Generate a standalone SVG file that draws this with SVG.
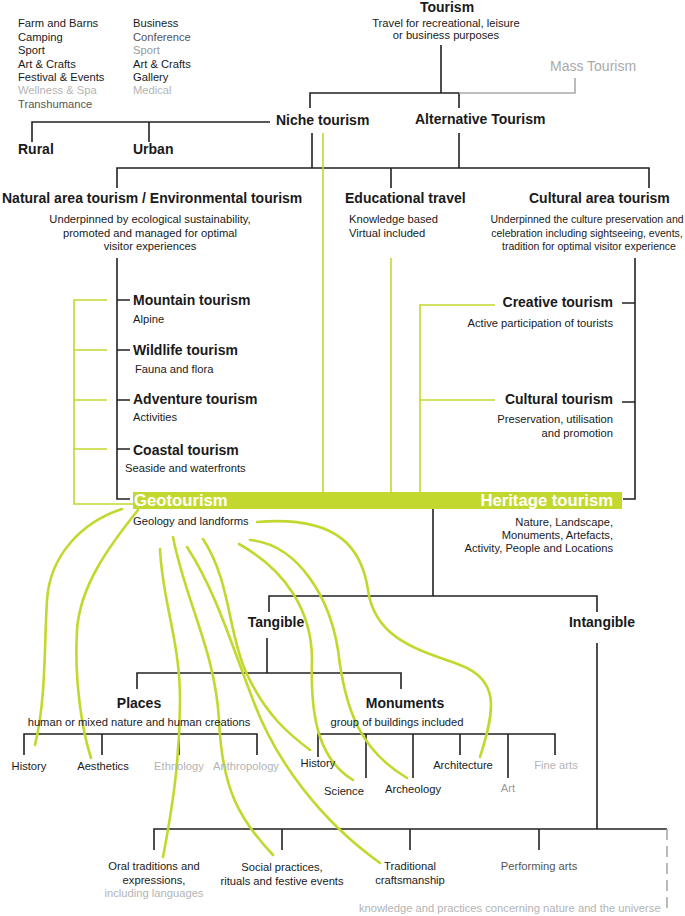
<svg xmlns="http://www.w3.org/2000/svg" width="685" height="916" viewBox="0 0 685 916">
<style>
text{font-family:"Liberation Sans",Arial,Helvetica,sans-serif;fill:#1a1a1a}
.h{font-size:14px;font-weight:bold}
.s{font-size:11.2px}
.c{font-size:10.5px}
.m{text-anchor:middle}
.e{text-anchor:end}
.w{fill:#ffffff;font-size:16.7px;font-weight:bold}
.g1{fill:#555}
.g2{fill:#999}
.g3{fill:#b4b4b4}
.ln{stroke:#222;stroke-width:1.6;fill:none}
.gl{stroke:#aaa;stroke-width:1.6;fill:none}
.gr{stroke:#c3d82e;stroke-width:1.6;fill:none}
.cv{stroke:#c3d82e;stroke-width:2.6;fill:none;stroke-linecap:round}
</style>
<rect width="685" height="916" fill="#ffffff"/>
<g id="connectors">
  <path class="ln" d="M441,45V93M310,108V93H459V108"/>
  <path class="gl" d="M459,93H575V78"/>
  <path class="ln" d="M32,142V122H270M149,122V142"/>
  <path class="ln" d="M312,133V168M459,133V168M117,188V168H649V188M391,168V188"/>
  <path class="ln" d="M117,258V499H130M117,300H130M117,350H130M117,400H130M117,449H130"/>
  <path class="gr" d="M107,300H74V504H133M74,350H107M74,400H107M74,449H107"/>
  <path class="gr" d="M323,133V492M391,258V492M495,305H420V492M420,400H495"/>
  <path class="ln" d="M635,258V499H623M622,303H635M622,402H635"/>
  <path class="ln" d="M479,499H433V596M269,612V596H597V612"/>
  <path class="ln" d="M267,638V673M137,689V673H401V689M597,643V829"/>
  <path class="ln" d="M24,755V734H257V755M102,734V755M179,734V755"/>
  <path class="ln" d="M318,757V734H555V755M366,734V778M413,734V778M460,734V755M508,734V778"/>
  <path class="ln" d="M154,850V829H667M282,829V850M410,829V850M539,829V850"/>
  <path class="gl" d="M667,829V913" stroke-dasharray="11 6"/>
</g>
<g id="geo-bar"><rect x="133" y="492" width="489" height="17" fill="#c3d82e"/></g>
<g id="green-links">
  <path class="cv" d="M122,509C82,522 50,555 47,600C44,650 46,700 35,745"/>
  <path class="cv" d="M138,510C110,545 80,585 77,630C74,680 82,730 91,758"/>
  <path class="cv" d="M160,549C162,600 180,640 180,700C180,760 172,810 163,857"/>
  <path class="cv" d="M173,537C185,600 215,650 219,720C222,790 240,820 273,855"/>
  <path class="cv" d="M187,547C215,590 230,640 253,700C275,760 320,820 380,863"/>
  <path class="cv" d="M203,539C230,580 228,630 245,670C265,715 290,735 310,750"/>
  <path class="cv" d="M239,544C285,570 312,610 312,660C310,720 320,760 353,780"/>
  <path class="cv" d="M250,540C300,545 330,600 338,650C345,710 360,750 407,778"/>
  <path class="cv" d="M257,522C340,515 362,550 368,590C375,640 420,650 460,665C500,680 495,710 480,757"/>
</g>
<g id="rural-list">
  <text class="s" x="18" y="27.3">Farm and Barns</text>
  <text class="s" x="18" y="40.7">Camping</text>
  <text class="s" x="18" y="54.1">Sport</text>
  <text class="s" x="18" y="67.5">Art &amp; Crafts</text>
  <text class="s" x="18" y="80.9">Festival &amp; Events</text>
  <text class="s g3" x="18" y="94.3">Wellness &amp; Spa</text>
  <text class="s g1" x="18" y="107.7">Transhumance</text>
</g>
<g id="urban-list">
  <text class="s" x="133" y="27.3">Business</text>
  <text class="s g1" x="133" y="40.7">Conference</text>
  <text class="s g2" x="133" y="54.1">Sport</text>
  <text class="s" x="133" y="67.5">Art &amp; Crafts</text>
  <text class="s" x="133" y="80.9">Gallery</text>
  <text class="s g3" x="133" y="94.3">Medical</text>
</g>
<g id="tourism">
  <text class="h m" x="447" y="12">Tourism</text>
  <text class="s m" x="446" y="27">Travel for recreational, leisure</text>
  <text class="s m" x="446" y="39">or business purposes</text>
</g>
<g id="mass-tourism"><text x="550" y="71" style="font-size:14px;fill:#aaa">Mass Tourism</text></g>
<g id="niche"><text class="h" x="276" y="125">Niche tourism</text></g>
<g id="alternative"><text class="h" x="415" y="124">Alternative Tourism</text></g>
<g id="rural"><text class="h" x="18" y="154">Rural</text></g>
<g id="urban"><text class="h" x="133" y="154">Urban</text></g>
<g id="natural-area">
  <text class="h" x="2" y="203">Natural area tourism / Environmental tourism</text>
  <text class="s m" x="150" y="223">Underpinned by ecological sustainability,</text>
  <text class="s m" x="150" y="236.5">promoted and managed for optimal</text>
  <text class="s m" x="150" y="250">visitor experiences</text>
</g>
<g id="educational">
  <text class="h" x="345" y="203">Educational travel</text>
  <text class="s" x="349" y="223">Knowledge based</text>
  <text class="s" x="349" y="237">Virtual included</text>
</g>
<g id="cultural-area">
  <text class="h" x="529" y="203">Cultural area tourism</text>
  <text class="c m" x="587" y="223">Underpinned the culture preservation and</text>
  <text class="c m" x="587" y="236.5">celebration including sightseeing, events,</text>
  <text class="c m" x="589" y="250">tradition for optimal visitor experience</text>
</g>
<g id="mountain"><text class="h" x="133" y="305">Mountain tourism</text><text class="s" x="133" y="323">Alpine</text></g>
<g id="wildlife"><text class="h" x="133" y="355">Wildlife tourism</text><text class="s" x="135" y="373">Fauna and flora</text></g>
<g id="adventure"><text class="h" x="133" y="404">Adventure tourism</text><text class="s" x="133" y="421">Activities</text></g>
<g id="coastal"><text class="h" x="133" y="455">Coastal tourism</text><text class="s" x="125" y="472">Seaside and waterfronts</text></g>
<g id="creative"><text class="h e" x="613" y="307">Creative tourism</text><text class="s e" x="613" y="327">Active participation of tourists</text></g>
<g id="cultural"><text class="h e" x="613" y="404">Cultural tourism</text><text class="s e" x="613" y="423">Preservation, utilisation</text><text class="s e" x="613" y="437">and promotion</text></g>
<g id="geotourism"><text class="w" x="134" y="506">Geotourism</text><text class="s" x="133" y="525">Geology and landforms</text></g>
<g id="heritage">
  <text class="w e" x="613" y="506">Heritage tourism</text>
  <text class="s e" x="613" y="526">Nature, Landscape,</text>
  <text class="s e" x="613" y="539">Monuments, Artefacts,</text>
  <text class="s e" x="613" y="552">Activity, People and Locations</text>
</g>
<g id="tangible"><text class="h m" x="276" y="627">Tangible</text></g>
<g id="intangible"><text class="h m" x="602" y="627">Intangible</text></g>
<g id="places"><text class="h m" x="139" y="708">Places</text><text class="s m" x="139" y="726">human or mixed nature and human creations</text></g>
<g id="monuments"><text class="h m" x="405" y="708">Monuments</text><text class="s m" x="397" y="726">group of buildings included</text></g>
<g id="places-items">
  <text class="s m" x="29" y="770">History</text>
  <text class="s m" x="103" y="770">Aesthetics</text>
  <text class="s m g3" x="179" y="770">Ethnology</text>
  <text class="s m g3" x="246" y="770">Anthropology</text>
</g>
<g id="monument-items">
  <text class="s m" x="318" y="767">History</text>
  <text class="s m" x="344" y="795">Science</text>
  <text class="s m" x="413" y="793">Archeology</text>
  <text class="s m" x="463" y="769">Architecture</text>
  <text class="s m g2" x="508" y="792">Art</text>
  <text class="s m g3" x="556" y="769">Fine arts</text>
</g>
<g id="intangible-items">
  <text class="s m" x="154" y="870">Oral traditions and</text>
  <text class="s m" x="154" y="883.5">expressions,</text>
  <text class="s m g3" x="154" y="897">including languages</text>
  <text class="s m" x="282" y="871">Social practices,</text>
  <text class="s m" x="282" y="884.5">rituals and festive events</text>
  <text class="s m" x="410" y="870">Traditional</text>
  <text class="s m" x="410" y="884">craftsmanship</text>
  <text class="s m g1" x="539" y="870">Performing arts</text>
  <text class="s g3" x="359" y="912">knowledge and practices concerning nature and the universe</text>
</g>
</svg>
